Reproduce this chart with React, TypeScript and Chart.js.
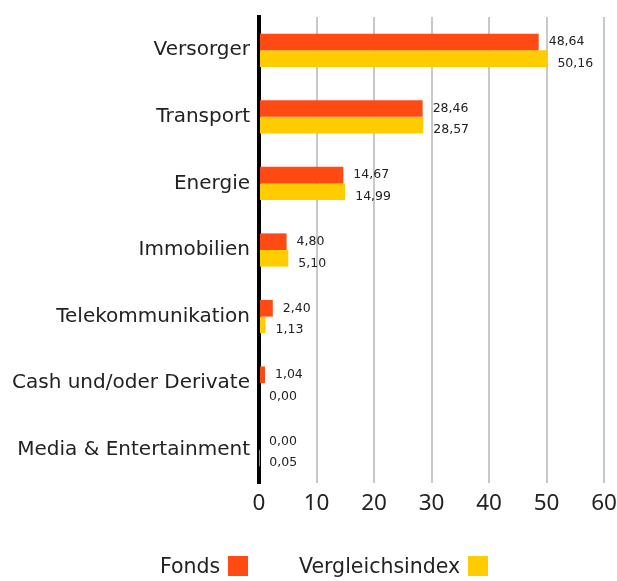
import React, { useEffect, useRef } from "react";
import { Chart, registerables } from "chart.js";

Chart.register(...registerables);

const categories = [
  "Versorger",
  "Transport",
  "Energie",
  "Immobilien",
  "Telekommunikation",
  "Cash und/oder Derivate",
  "Media & Entertainment",
];
const fondsValues = [48.64, 28.46, 14.67, 4.8, 2.4, 1.04, 0.0];
const indexValues = [50.16, 28.57, 14.99, 5.1, 1.13, 0.0, 0.05];
const seriesNames = ["Fonds", "Vergleichsindex"];
const seriesColors = ["#FF4A14", "#FFCC00"];
const xMin = 0;
const xMax = 60;
const xStep = 10;

const FONT = "'DejaVu Sans', sans-serif";
const TICK_FONT = "'Noto Sans', sans-serif";
const TEXT = "#222222";

const valueLabels = {
  id: "valueLabels",
  afterDatasetsDraw(chart: any) {
    const ctx = chart.ctx;
    ctx.save();
    ctx.font = `12.5px ${FONT}`;
    ctx.fillStyle = TEXT;
    ctx.textAlign = "left";
    ctx.textBaseline = "middle";
    chart.data.datasets.forEach((ds: any, di: number) => {
      const meta = chart.getDatasetMeta(di);
      meta.data.forEach((bar: any, i: number) => {
        const v = ds.data[i] as number;
        const txt = v.toFixed(2).replace(".", ",");
        ctx.fillText(txt, bar.x + 10, bar.y + (di === 1 ? 5 : 0));
      });
    });
    ctx.restore();
  },
};

export default function App() {
  const ref = useRef<HTMLCanvasElement | null>(null);

  useEffect(() => {
    if (!ref.current) return;
    const chart = new Chart(ref.current, {
      type: "bar",
      data: {
        labels: categories,
        datasets: [
          {
            label: seriesNames[0],
            data: fondsValues,
            backgroundColor: seriesColors[0],
            borderWidth: 0,
          },
          {
            label: seriesNames[1],
            data: indexValues,
            backgroundColor: seriesColors[1],
            borderWidth: 0,
          },
        ],
      },
      options: {
        indexAxis: "y",
        animation: false,
        responsive: false,
        maintainAspectRatio: false,
        datasets: {
          bar: { categoryPercentage: 0.5, barPercentage: 1.0 },
        },
        layout: { padding: { top: 17, right: 13, bottom: 64, left: 0 } },
        plugins: {
          legend: { display: false },
          tooltip: { enabled: false },
        },
        scales: {
          x: {
            min: xMin,
            max: xMax,
            ticks: {
              stepSize: xStep,
              color: TEXT,
              font: { family: TICK_FONT, size: 22.5 },
              padding: 7,
            },
            grid: {
              color: "#c8c8c8",
              lineWidth: 2,
              drawTicks: false,
            },
            border: { display: false },
            afterFit(scale: any) {
              scale.height = 34;
              scale.paddingRight = 0;
              scale.paddingLeft = 0;
            },
          },
          y: {
            ticks: {
              color: TEXT,
              font: { family: FONT, size: 20 },
              padding: 9,
            },
            grid: { display: false, drawTicks: false },
            border: { display: true, color: "#000000", width: 4 },
            afterFit(scale: any) {
              scale.width = 259;
              scale.paddingTop = 0;
              scale.paddingBottom = 0;
            },
          },
        },
      } as any,
      plugins: [valueLabels],
    });
    return () => chart.destroy();
  }, []);

  const legendText: React.CSSProperties = {
    fontFamily: FONT,
    fontSize: 20.5,
    color: TEXT,
    lineHeight: "20px",
  };
  const box = (c: string): React.CSSProperties => ({
    display: "inline-block",
    width: 20,
    height: 20,
    background: c,
    marginLeft: 8,
  });

  return (
    <div
      style={{
        position: "fixed",
        left: 0,
        top: 0,
        width: 617,
        height: 581,
        background: "#fff",
      }}
    >
      <canvas ref={ref} width={617} height={581} style={{ display: "block" }} />
      <div
        style={{
          position: "absolute",
          left: 160,
          top: 556,
          display: "flex",
          alignItems: "center",
        }}
      >
        <span style={legendText}>{seriesNames[0]}</span>
        <span style={box(seriesColors[0])} />
      </div>
      <div
        style={{
          position: "absolute",
          left: 299,
          top: 556,
          display: "flex",
          alignItems: "center",
        }}
      >
        <span style={legendText}>{seriesNames[1]}</span>
        <span style={box(seriesColors[1])} />
      </div>
    </div>
  );
}
